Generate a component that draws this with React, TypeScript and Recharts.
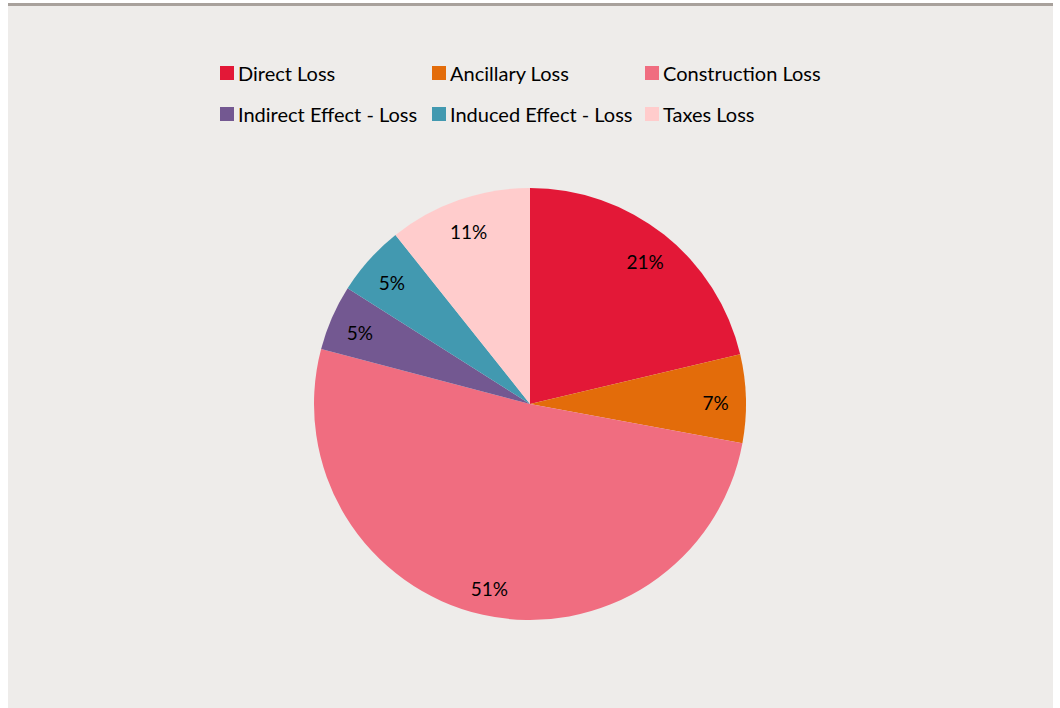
import React from "react";
import { PieChart, Pie, Cell } from "recharts";

const categories = [
  "Direct Loss",
  "Ancillary Loss",
  "Construction Loss",
  "Indirect Effect - Loss",
  "Induced Effect - Loss",
  "Taxes Loss",
];
const values = [21.3, 6.6, 51.2, 4.9, 5.3, 10.7];
const colors = ["#E31837", "#E36C0A", "#F06D80", "#735891", "#4299B0", "#FFCCCC"];

const data = categories.map((name, i) => ({ name, value: values[i] }));
const total = values.reduce((a, b) => a + b, 0);

const FONT = "Lato, 'Open Sans', sans-serif";
const RAD = Math.PI / 180;

const renderLabel = (props: any) => {
  const { cx, cy, midAngle, outerRadius, value } = props;
  const r = outerRadius * 0.86;
  const x = cx + r * Math.cos(-midAngle * RAD);
  const y = cy + r * Math.sin(-midAngle * RAD) + 3;
  return (
    <text
      x={x}
      y={y}
      fill="#000"
      textAnchor="middle"
      dominantBaseline="central"
      fontFamily={FONT}
      fontSize={19}
    >
      {Math.round((value / total) * 100) + "%"}
    </text>
  );
};

const colX = [212, 424, 637];
const rowY = [67, 108];

const LegendBlock = () => (
  <div style={{ position: "absolute", left: 0, top: 3, width: 1045, height: 140 }}>
    {categories.map((name, i) => {
      const col = i % 3;
      const row = Math.floor(i / 3);
      return (
        <div
          key={name}
          style={{
            position: "absolute",
            left: colX[col],
            top: rowY[row] - 12,
            height: 24,
            display: "flex",
            alignItems: "center",
            fontFamily: FONT,
            fontSize: 20,
            color: "#000",
            whiteSpace: "nowrap",
          }}
        >
          <span
            style={{
              display: "inline-block",
              width: 14,
              height: 14,
              background: colors[i],
              marginRight: 4,
            }}
          />
          {name}
        </div>
      );
    })}
  </div>
);

export default function App() {
  return (
    <div
      style={{
        position: "absolute",
        left: 8,
        top: 3,
        width: 1045,
        height: 705,
        background: "#EEECEA",
      }}
    >
      <div style={{ height: 3, background: "#A8A19C" }} />
      <PieChart width={1045} height={702} margin={{ top: 0, right: 0, bottom: 0, left: 0 }}>
        <Pie
          data={data}
          dataKey="value"
          nameKey="name"
          cx={522}
          cy={398}
          outerRadius={216}
          startAngle={90}
          endAngle={-270}
          stroke="none"
          label={renderLabel}
          labelLine={false}
          isAnimationActive={false}
        >
          {data.map((d, i) => (
            <Cell key={d.name} fill={colors[i]} />
          ))}
        </Pie>
      </PieChart>
      <LegendBlock />
    </div>
  );
}
